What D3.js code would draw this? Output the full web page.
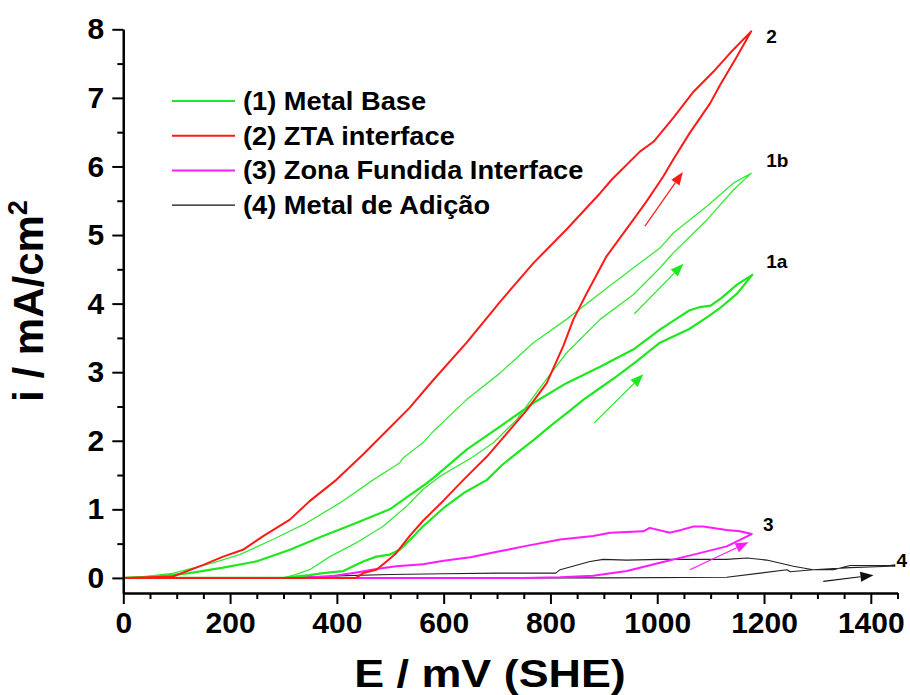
<!DOCTYPE html>
<html>
<head>
<meta charset="utf-8">
<script src="https://cdn.jsdelivr.net/npm/d3@7"></script>
<style>
  body { margin: 0; background: #fff; }
  svg text { font-family: "Liberation Sans", Arial, sans-serif; font-weight: bold; fill: #000; }
</style>
</head>
<body>
<svg id="chart" width="910" height="695"></svg>
<script>
// Axis ticks
const xMajorTicks = [0, 200, 400, 600, 800, 1000, 1200, 1400];
const yMajorTicks = [0, 1, 2, 3, 4, 5, 6, 7, 8];

// Legend entries
const legendLabels = ["(1) Metal Base", "(2) ZTA interface", "(3) Zona Fundida Interface", "(4) Metal de Adição"];
const legendColors = ["#1ee81e", "#ff1a1a", "#ff1aff", "#111111"];

// Potentiodynamic loops: [E (mV SHE), i (mA/cm²)], forward then reverse scan
const metalBase1a = [
  [0,0],[100,0],[200,0],[300,0],[349,0.04],[374,0.07],[412,0.10],[449,0.24],[474,0.31],[499,0.34],
  [518,0.41],[540,0.58],[561,0.75],[600,1.02],[640,1.25],[681,1.43],[710,1.65],[737,1.82],[770,2.02],
  [799,2.21],[830,2.40],[862,2.60],[895,2.78],[924,2.94],[960,3.15],[1005,3.43],[1030,3.52],[1060,3.63],
  [1093,3.80],[1120,3.95],[1150,4.15],[1178,4.42],
  [1150,4.28],[1120,4.08],[1100,3.97],[1080,3.95],[1060,3.90],[1040,3.80],[1005,3.62],[955,3.33],
  [893,3.08],[830,2.84],[768,2.55],[706,2.21],[643,1.87],[581,1.46],[561,1.34],[530,1.17],[499,1.00],
  [436,0.80],[374,0.61],[312,0.41],[249,0.24],[187,0.15],[124,0.07],[60,0.02],[0,0]
];
const metalBase1b = [
  [0,0],[150,0],[250,0],[300,0],[324,0.05],[349,0.12],[387,0.31],[436,0.51],[486,0.75],[530,1.04],
  [561,1.29],[593,1.48],[656,1.77],[693,1.97],[737,2.31],[787,2.84],[830,3.28],[893,3.77],[955,4.13],
  [1005,4.52],[1030,4.74],[1093,5.22],[1143,5.66],[1176,5.90],
  [1143,5.76],[1093,5.42],[1030,5.03],[1005,4.81],[955,4.52],[893,4.15],[830,3.77],[768,3.43],
  [706,2.99],[643,2.60],[581,2.14],[561,1.97],[524,1.75],[518,1.68],[468,1.43],[405,1.09],[343,0.80],
  [280,0.56],[218,0.34],[168,0.22],[94,0.07],[40,0.02],[0,0]
];
const ztaInterface = [
  [0,0],[200,0],[350,0],[436,0],[449,0.07],[474,0.12],[493,0.24],[511,0.36],[536,0.61],[561,0.83],
  [600,1.13],[637,1.43],[681,1.77],[724,2.16],[756,2.45],[793,2.84],[824,3.38],[843,3.77],[868,4.15],
  [905,4.69],[955,5.22],[980,5.49],[1011,5.85],[1030,6.10],[1061,6.49],[1099,6.92],[1118,7.19],
  [1149,7.60],[1176,7.97],
  [1136,7.65],[1105,7.38],[1068,7.09],[1030,6.71],[993,6.36],[968,6.22],[915,5.81],[893,5.61],
  [830,5.08],[768,4.59],[706,4.03],[643,3.43],[581,2.89],[536,2.48],[499,2.19],[449,1.80],[399,1.43],
  [349,1.12],[312,0.85],[262,0.61],[224,0.41],[187,0.31],[150,0.19],[93,0.02],[0,0]
];
const zonaFundida = [
  [0,0],[300,0],[600,0],[750,0],[818,0.01],[880,0.03],[943,0.10],[1005,0.22],[1068,0.34],[1130,0.46],
  [1177,0.64],
  [1155,0.68],[1130,0.70],[1086,0.75],[1068,0.75],[1045,0.70],[1024,0.66],[986,0.73],[974,0.68],
  [912,0.66],[880,0.61],[818,0.56],[750,0.46],[700,0.38],[650,0.30],[600,0.25],[561,0.20],[511,0.17],
  [474,0.13],[437,0.08],[387,0.02],[300,0]
];
const metalAdicao = [
  [0,0],[300,0],[600,0],[900,0],[1130,0.01],[1193,0.07],[1243,0.12],[1249,0.09],[1292,0.12],
  [1361,0.15],[1436,0.17],[1445,0.17],
  [1445,0.19],[1436,0.18],[1361,0.18],[1330,0.12],[1292,0.12],[1255,0.17],[1205,0.26],[1168,0.29],
  [1130,0.27],[1068,0.27],[1005,0.27],[943,0.26],[899,0.27],[874,0.24],[842,0.17],[818,0.12],
  [810,0.07],[700,0.07],[600,0.06],[500,0.05],[400,0.03],[300,0]
];

// Scan-direction arrows
const arrowSpecs = [
  { from: [977, 5.13], to: [1048, 5.92], color: "#ff1a1a" },
  { from: [957, 3.85], to: [1049, 4.58], color: "#1ee81e" },
  { from: [882, 2.26], to: [974, 2.97], color: "#1ee81e" },
  { from: [1061, 0.12], to: [1171, 0.52], color: "#ff1aff" },
  { from: [1311, -0.05], to: [1405, 0.04], color: "#111111" }
];

// Curve tags
const curveTags = [
  { text: "2", at: [1204, 7.80] },
  { text: "1b", at: [1204, 5.99] },
  { text: "1a", at: [1204, 4.52] },
  { text: "3", at: [1198, 0.69] },
  { text: "4", at: [1448, 0.16] }
];

const svg = d3.select("#chart");

const x = d3.scaleLinear().domain([0, 1450]).range([123.3, 897.5]);
const y = d3.scaleLinear().domain([-0.22, 8]).range([593, 29.3]);

// Curves
const line = d3.line().x(d => x(d[0])).y(d => y(d[1]));
const plot = svg.append("g");
const series = [
  { data: metalAdicao, color: "#222222", width: 1.1 },
  { data: zonaFundida, color: "#ff1aff", width: 2 },
  { data: metalBase1b, color: "#3ae83a", width: 1.3 },
  { data: metalBase1a, color: "#1ee81e", width: 2.2 },
  { data: ztaInterface, color: "#ff1a1a", width: 2 }
];
series.forEach(s => {
  plot.append("path").datum(s.data).attr("d", line)
    .attr("fill", "none").attr("stroke", s.color)
    .attr("stroke-width", s.width).attr("stroke-linejoin", "round");
});

// Arrows
arrowSpecs.forEach(a => {
  const x0 = x(a.from[0]), y0 = y(a.from[1]), x1 = x(a.to[0]), y1 = y(a.to[1]);
  const ang = Math.atan2(y1 - y0, x1 - x0);
  const L = 13, W = 5;
  const bx = x1 - L * Math.cos(ang), by = y1 - L * Math.sin(ang);
  plot.append("line").attr("x1", x0).attr("y1", y0).attr("x2", bx).attr("y2", by)
    .attr("stroke", a.color).attr("stroke-width", 1.2);
  plot.append("polygon")
    .attr("points", [
      [x1, y1],
      [bx + W * Math.sin(ang), by - W * Math.cos(ang)],
      [bx - W * Math.sin(ang), by + W * Math.cos(ang)]
    ].map(p => p.join(",")).join(" "))
    .attr("fill", a.color);
});

// Curve tags
curveTags.forEach(t => {
  svg.append("text").attr("x", x(t.at[0])).attr("y", y(t.at[1]))
    .attr("font-size", 19).text(t.text);
});

// Axes
const xMinorTicks = d3.range(0, 1451, 50).filter(v => v % 200 !== 0);
const yMinorTicks = d3.range(0.5, 8, 1);
const xAxisMajor = d3.axisBottom(x).tickValues(xMajorTicks).tickFormat(d3.format("d"))
  .tickSize(11).tickSizeOuter(0).tickPadding(8);
const xAxisMinor = d3.axisBottom(x).tickValues(xMinorTicks).tickSize(6).tickSizeOuter(0).tickFormat("");
const yAxisMajor = d3.axisLeft(y).tickValues(yMajorTicks).tickFormat(d3.format("d"))
  .tickSize(11).tickSizeOuter(0).tickPadding(8);
const yAxisMinor = d3.axisLeft(y).tickValues(yMinorTicks).tickSize(6).tickSizeOuter(0).tickFormat("");

const gx = svg.append("g").attr("transform", "translate(0,593)");
gx.append("g").call(xAxisMinor);
gx.append("g").call(xAxisMajor);
const gy = svg.append("g").attr("transform", "translate(123.3,0)");
gy.append("g").call(yAxisMinor);
gy.append("g").call(yAxisMajor);

svg.selectAll(".domain").attr("stroke", "#000").attr("stroke-width", 2.2);
svg.selectAll(".tick line").attr("stroke", "#000").attr("stroke-width", 2);
svg.selectAll(".tick text").attr("font-size", 30).attr("font-family", "Liberation Sans, Arial, sans-serif")
  .attr("font-weight", "bold").attr("fill", "#000");
gx.selectAll(".tick text").attr("dy", "0.71em");

// Axis titles
svg.append("text")
  .attr("transform", "translate(490,687) scale(1.15,1)")
  .attr("text-anchor", "middle").attr("font-size", 39)
  .text("E / mV (SHE)");

const yt = svg.append("text")
  .attr("transform", "translate(43,301) rotate(-90)")
  .attr("text-anchor", "middle").attr("font-size", 42);
yt.append("tspan").text("i / mA/cm");
yt.append("tspan").attr("font-size", 27).attr("dy", -16).text("2");

// Legend
const legend = svg.append("g");
legendLabels.forEach((lab, k) => {
  const ly = 101 + k * 34.7;
  legend.append("line").attr("x1", 172).attr("x2", 235).attr("y1", ly).attr("y2", ly)
    .attr("stroke", legendColors[k]).attr("stroke-width", k === 3 ? 1.2 : 2);
  legend.append("text")
    .attr("transform", `translate(243,${ly + 9}) scale(1.09,1)`)
    .attr("font-size", 25).text(lab);
});
</script>
</body>
</html>
